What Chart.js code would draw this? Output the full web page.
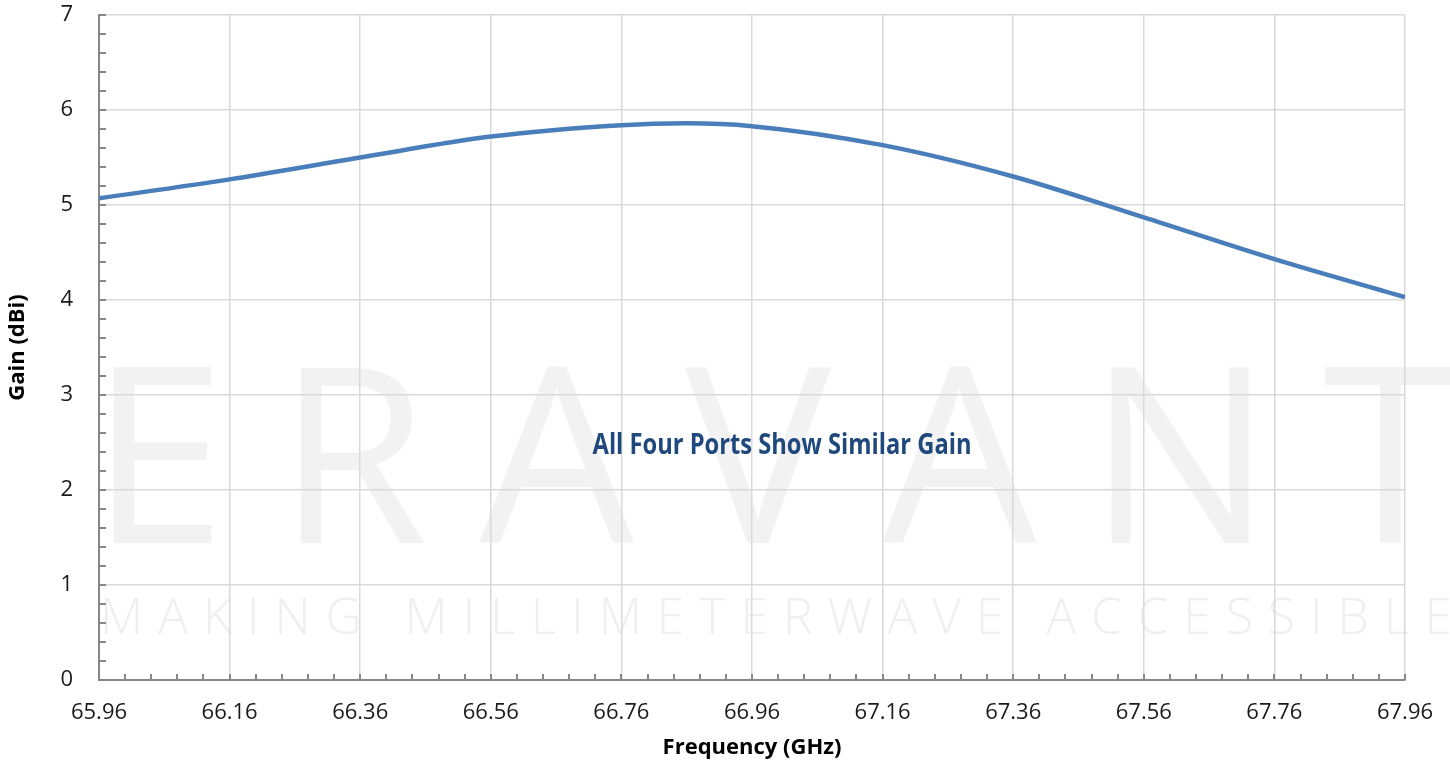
<!DOCTYPE html>
<html>
<head>
<meta charset="utf-8">
<title>Gain vs Frequency</title>
<script src="https://cdn.jsdelivr.net/npm/chart.js@4.4.1/dist/chart.umd.min.js"></script>
<style>
  html, body { margin: 0; padding: 0; background: #fff; }
  canvas { display: block; background: #fff; }
</style>
</head>
<body>
<canvas id="gainChart" width="1450" height="763"></canvas>
<script>
// measured gain across the band
const freqGHz = [65.96, 66.16, 66.36, 66.56, 66.76, 66.86, 66.96, 67.16, 67.36, 67.56, 67.76, 67.96];
const gainDbi = [5.07, 5.27, 5.50, 5.72, 5.84, 5.86, 5.83, 5.63, 5.30, 4.87, 4.43, 4.03];

// axis ticks
const xTickMin = 65.96;
const xTickMax = 67.96;
const xTickStep = 0.2;
const xMinorStep = 0.04;
const yTickMin = 0;
const yTickMax = 7;
const yTickStep = 1;
const yMinorStep = 0.2;

const noteText = 'All Four Ports Show Similar Gain';
const brandName = 'ERAVANT';
const brandTagline = 'MAKING MILLIMETERWAVE ACCESSIBLE';

Chart.defaults.font.family = '"Open Sans", sans-serif';
Chart.defaults.color = '#1a1a1a';

// spread characters evenly between two x positions
function spreadText(ctx, text, left, right, baseline) {
    const chars = [...text];
    const widths = chars.map(c => ctx.measureText(c).width);
    const total = widths.reduce((a, b) => a + b, 0);
    const gap = (right - left - total) / (chars.length - 1);
    let x = left;
    chars.forEach((c, i) => {
        ctx.fillText(c, x, baseline);
        x += widths[i] + gap;
    });
}

// faint logo behind the grid
const watermark = {
    id: 'watermark',
    beforeDraw(chart) {
        const ctx = chart.ctx;
        ctx.save();
        ctx.fillStyle = '#fff';
        ctx.fillRect(0, 0, chart.width, chart.height);
        ctx.textAlign = 'left';
        ctx.textBaseline = 'alphabetic';
        ctx.fillStyle = '#f2f2f2';
        ctx.font = '500 245px "Open Sans", sans-serif';
        spreadText(ctx, brandName, 90, 1458, 543);
        ctx.fillStyle = '#efefef';
        ctx.font = '300 50px "Open Sans", sans-serif';
        spreadText(ctx, brandTagline, 100, 1452, 634);
        ctx.restore();
    }
};

// inside tick marks on both axes
const axisTicks = {
    id: 'axisTicks',
    afterDatasetsDraw(chart) {
        const { ctx, chartArea: a, scales: { x, y } } = chart;
        ctx.save();
        ctx.strokeStyle = '#878787';
        ctx.lineWidth = 2;
        ctx.beginPath();
        const nx = Math.round((xTickMax - xTickMin) / xMinorStep);
        for (let i = 0; i <= nx; i++) {
            const px = Math.round(x.getPixelForValue(xTickMin + i * xMinorStep));
            ctx.moveTo(px, a.bottom);
            ctx.lineTo(px, a.bottom - 6);
        }
        const ny = Math.round((yTickMax - yTickMin) / yMinorStep);
        for (let i = 0; i <= ny; i++) {
            const py = Math.round(y.getPixelForValue(yTickMin + i * yMinorStep));
            ctx.moveTo(a.left, py);
            ctx.lineTo(a.left + 7, py);
        }
        ctx.stroke();
        ctx.restore();
    }
};

// text note in the middle of the plot
const noteLabel = {
    id: 'noteLabel',
    afterDatasetsDraw(chart) {
        const { ctx, scales: { x, y } } = chart;
        ctx.save();
        ctx.font = 'bold 29px "Open Sans", sans-serif';
        const w = ctx.measureText(noteText).width;
        ctx.translate(x.getPixelForValue(67.006), y.getPixelForValue(2.47));
        ctx.scale(379 / w, 1);
        ctx.fillStyle = '#1f497d';
        ctx.textAlign = 'center';
        ctx.textBaseline = 'middle';
        ctx.fillText(noteText, 0, 0);
        ctx.restore();
    }
};

const ctxGain = document.getElementById('gainChart').getContext('2d');
new Chart(ctxGain, {
    type: 'line',
    data: {
        datasets: [{
            label: 'Gain',
            data: freqGHz.map((f, i) => ({ x: f, y: gainDbi[i] })),
            borderColor: '#4a7ebb',
            borderWidth: 4.5,
            pointRadius: 0,
            fill: false,
            cubicInterpolationMode: 'monotone'
        }]
    },
    options: {
        responsive: false,
        animation: false,
        layout: { padding: { top: 15, right: 45, left: 0, bottom: 0 } },
        plugins: {
            legend: { display: false },
            tooltip: { enabled: false }
        },
        scales: {
            x: {
                type: 'linear',
                min: xTickMin,
                max: xTickMax,
                afterFit: s => {
                    s.height = 83;
                    s.paddingLeft = 0;
                    s.paddingRight = 0;
                },
                grid: { color: '#d9d9d9', lineWidth: 1.5, drawTicks: false },
                border: { color: '#878787', width: 2 },
                ticks: {
                    stepSize: xTickStep,
                    autoSkip: false,
                    maxRotation: 0,
                    padding: 20,
                    font: { size: 22 },
                    callback: v => v.toFixed(2)
                },
                title: {
                    display: true,
                    text: 'Frequency (GHz)',
                    font: { size: 22, weight: 'bold' },
                    color: '#000',
                    padding: { top: 0, bottom: 2 }
                }
            },
            y: {
                min: yTickMin,
                max: yTickMax,
                afterFit: s => {
                    s.width = 99;
                    s.paddingTop = 0;
                    s.paddingBottom = 0;
                },
                grid: { color: '#d9d9d9', lineWidth: 1.5, drawTicks: false },
                border: { color: '#878787', width: 2 },
                ticks: {
                    stepSize: yTickStep,
                    padding: 26,
                    font: { size: 22 }
                },
                title: {
                    display: true,
                    text: 'Gain (dBi)',
                    font: { size: 22, weight: 'bold' },
                    color: '#000',
                    padding: { top: 5, bottom: 0 }
                }
            }
        }
    },
    plugins: [watermark, axisTicks, noteLabel]
});
</script>
</body>
</html>
